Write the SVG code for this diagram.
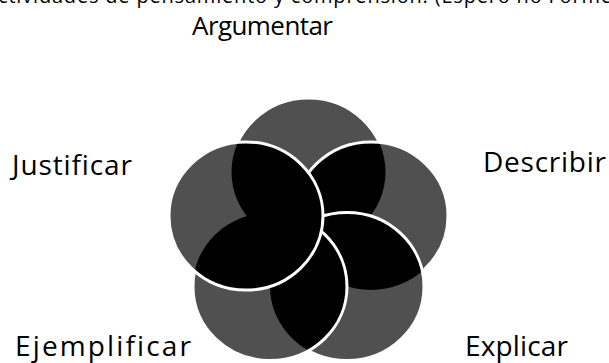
<svg xmlns="http://www.w3.org/2000/svg" width="609" height="363" viewBox="0 0 609 363">
<style>
  .lbl{font-family:"Open Sans","Lato","Liberation Sans",sans-serif;font-size:28px;fill:#000;font-variant-ligatures:none;}
  .title{font-size:26px;}
  .head{font-family:"Open Sans","Lato","Liberation Sans",sans-serif;font-size:20px;fill:#000;font-variant-ligatures:none;}
  .base{fill:#505050;}
  .ov{fill:#000;}
  .ring{fill:none;stroke:#fff;stroke-width:3;}
</style>
<defs>
  <ellipse id="cT" cx="308.5" cy="172" rx="77" ry="74"/>
  <ellipse id="cR" cx="371" cy="216" rx="77" ry="74"/>
  <ellipse id="cB2" cx="347" cy="286.5" rx="77" ry="74"/>
  <ellipse id="cB1" cx="270" cy="286.5" rx="77" ry="74"/>
  <ellipse id="cL" cx="246" cy="216" rx="77" ry="74"/>
  <clipPath id="kT"><use href="#cT"/></clipPath>
  <clipPath id="kR"><use href="#cR"/></clipPath>
  <clipPath id="kB2"><use href="#cB2"/></clipPath>
  <clipPath id="kB1"><use href="#cB1"/></clipPath>
  <mask id="mT" maskUnits="userSpaceOnUse" x="0" y="0" width="609" height="363">
    <rect width="609" height="363" fill="#fff"/>
    <use href="#cR" fill="#000"/><use href="#cB2" fill="#000"/><use href="#cB1" fill="#000"/><use href="#cL" fill="#000"/>
  </mask>
  <mask id="mR" maskUnits="userSpaceOnUse" x="0" y="0" width="609" height="363">
    <rect width="609" height="363" fill="#fff"/>
    <use href="#cB2" fill="#000"/><use href="#cB1" fill="#000"/><use href="#cL" fill="#000"/>
  </mask>
  <mask id="mB2" maskUnits="userSpaceOnUse" x="0" y="0" width="609" height="363">
    <rect width="609" height="363" fill="#fff"/>
    <use href="#cB1" fill="#000"/><use href="#cL" fill="#000"/>
  </mask>
  <mask id="mB1" maskUnits="userSpaceOnUse" x="0" y="0" width="609" height="363">
    <rect width="609" height="363" fill="#fff"/>
    <use href="#cL" fill="#000"/>
  </mask>
</defs>
<rect width="609" height="363" fill="#fff"/>
<text class="head" x="-2" y="3" textLength="614">ctividades de pensamiento y comprensión. (Espero no Forme</text>

<g id="fills">
  <use href="#cT" class="base"/>
  <use href="#cR" class="base"/>
  <use href="#cB2" class="base"/>
  <use href="#cB1" class="base"/>
  <use href="#cL" class="base"/>
</g>
<g id="overlaps" class="ov">
  <use href="#cR" clip-path="url(#kT)"/>
  <use href="#cB2" clip-path="url(#kT)"/>
  <use href="#cB1" clip-path="url(#kT)"/>
  <use href="#cL" clip-path="url(#kT)"/>
  <use href="#cB2" clip-path="url(#kR)"/>
  <use href="#cB1" clip-path="url(#kR)"/>
  <use href="#cL" clip-path="url(#kR)"/>
  <use href="#cB1" clip-path="url(#kB2)"/>
  <use href="#cL" clip-path="url(#kB2)"/>
  <use href="#cL" clip-path="url(#kB1)"/>
</g>

<g id="node-argumentar">
  <use href="#cT" class="ring" mask="url(#mT)"/>
  <text class="lbl title" x="192" y="35" textLength="141">Argumentar</text>
</g>
<g id="node-describir">
  <use href="#cR" class="ring" mask="url(#mR)"/>
  <text class="lbl" x="483" y="172" textLength="123">Describir</text>
</g>
<g id="node-explicar">
  <use href="#cB2" class="ring" mask="url(#mB2)"/>
  <text class="lbl" x="465" y="356" textLength="103">Explicar</text>
</g>
<g id="node-ejemplificar">
  <use href="#cB1" class="ring" mask="url(#mB1)"/>
  <text class="lbl" x="15" y="356" textLength="176">Ejemplificar</text>
</g>
<g id="node-justificar">
  <use href="#cL" class="ring"/>
  <text class="lbl" x="12" y="175" textLength="120">Justificar</text>
</g>
</svg>
